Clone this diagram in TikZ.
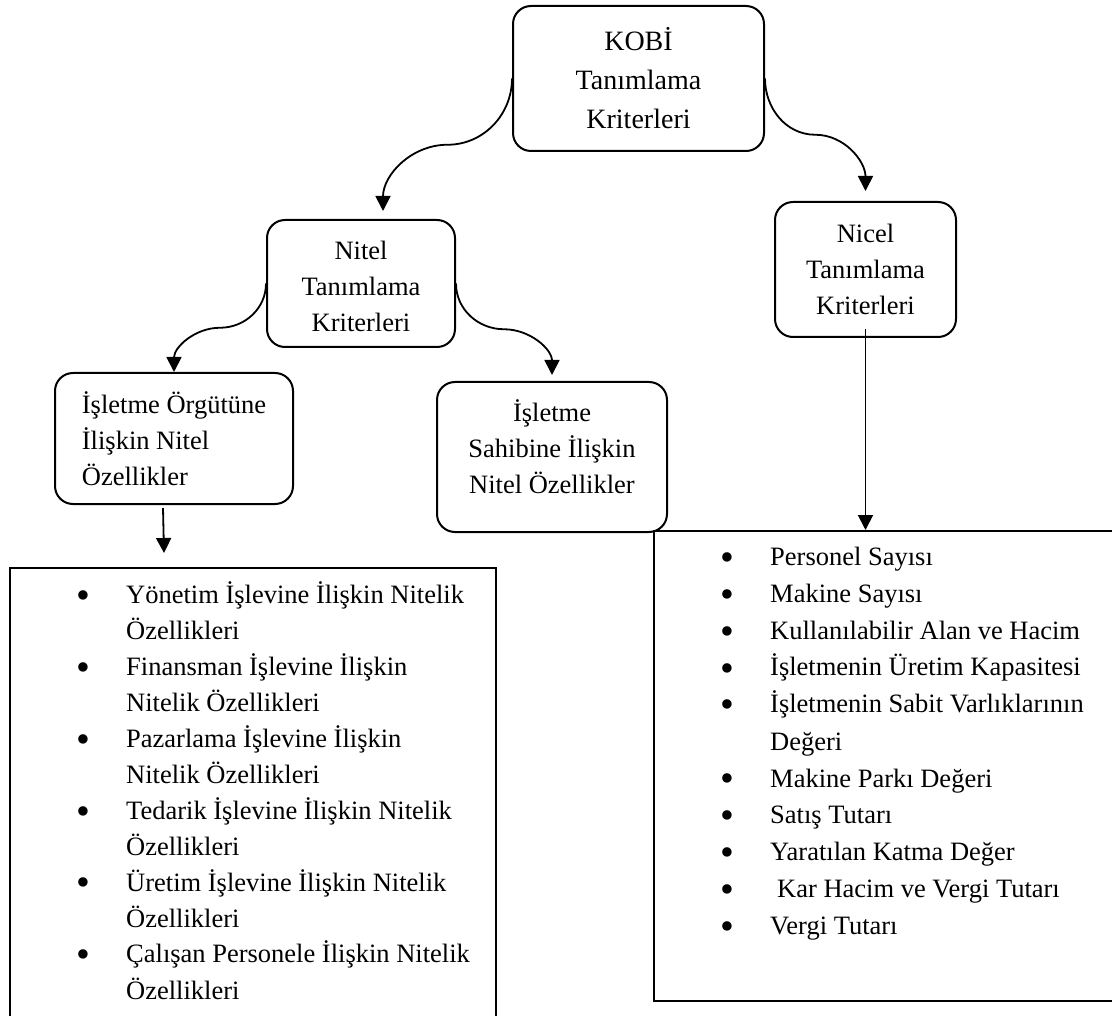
\documentclass[tikz,border=0pt]{standalone}
\usepackage{fontspec}
\setmainfont{Liberation Serif}
\usetikzlibrary{arrows.meta,calc}
\newcommand\blt{\makebox[49.4pt][l]{\raisebox{-5pt}{\fontsize{39.5}{39.5}\selectfont •}}}
\newcommand\ind{\hspace*{49.4pt}}
\begin{document}
\begin{tikzpicture}[x=1pt,y=-1pt,
  rbox/.style={draw, line width=2pt, rounded corners=18pt, inner sep=0pt, align=center, font=\fontsize{26.5}{36}\selectfont},
  lbox/.style={draw, line width=2pt, inner sep=0pt, anchor=north west},
  arr/.style={line width=1.8pt, -{Triangle[length=15pt,width=15pt]}},
  txt/.style={inner sep=0pt, anchor=base west}
]
\useasboundingbox (0,0) rectangle (1112,1016);
\clip (0,0) rectangle (1112,1016);
\fill[white] (0,0) rectangle (1112,1016);

\node[rbox, minimum width=251pt, minimum height=145pt, font=\fontsize{28}{39}\selectfont] (kobi) at (638.5,78.5) {KOBİ\\Tanımlama\\Kriterleri};
\node[rbox, minimum width=188pt, minimum height=127pt] (nitel) at (361,283.5) {\rule{0pt}{24pt}Nitel\\Tanımlama\\Kriterleri};
\node[rbox, minimum width=181pt, minimum height=135pt] (nicel) at (865.5,269.5) {Nicel\\Tanımlama\\Kriterleri};
\node[rbox, align=left, minimum width=238pt, minimum height=131pt] (org) at (174,438.5) {İşletme Örgütüne\\İlişkin Nitel\\Özellikler};
\node[rbox, minimum width=230pt, minimum height=150pt] (sahip) at (552,457) {İşletme\\Sahibine İlişkin\\Nitel Özellikler\rule[-20pt]{0pt}{0pt}};

\node[lbox, minimum width=486pt, minimum height=480pt] (listA) at (9,567) {};
\node[lbox, minimum width=480pt, minimum height=470pt] (listB) at (653,530) {};

\node[txt, font=\fontsize{26.5}{36}\selectfont] (itemsA) at (76.6,603) {\parbox[t]{430pt}{\raggedright
\blt Yönetim İşlevine İlişkin Nitelik\\
\ind Özellikleri\\
\blt Finansman İşlevine İlişkin\\
\ind Nitelik Özellikleri\\
\blt Pazarlama İşlevine İlişkin\\
\ind Nitelik Özellikleri\\
\blt Tedarik İşlevine İlişkin Nitelik\\
\ind Özellikleri\\
\blt Üretim İşlevine İlişkin Nitelik\\
\ind Özellikleri\\
\blt Çalışan Personele İlişkin Nitelik\\
\ind Özellikleri}};

\node[txt, font=\fontsize{26.5}{37}\selectfont] (itemsB) at (720.6,565) {\parbox[t]{420pt}{\raggedright
\blt Personel Sayısı\\
\blt Makine Sayısı\\
\blt Kullanılabilir Alan ve Hacim\\
\blt İşletmenin Üretim Kapasitesi\\
\blt İşletmenin Sabit Varlıklarının\\
\ind Değeri\\
\blt Makine Parkı Değeri\\
\blt Satış Tutarı\\
\blt Yaratılan Katma Değer\\
\blt\hspace*{7pt}Kar Hacim ve Vergi Tutarı\\
\blt Vergi Tutarı}};

\coordinate (e1) at ([xshift=22pt,yshift=8pt]nitel.north);
\coordinate (e2) at ([yshift=10pt]nicel.north);
\coordinate (e3) at (org.north);
\coordinate (e4) at ([yshift=6pt]sahip.north);

\draw[arr] (kobi.west) to[out=-90,in=0] ($(kobi.west)!0.5!(e1)$) to[out=180,in=90] (e1);
\draw[arr] (kobi.east) to[out=-90,in=180] ($(kobi.east)!0.5!(e2)$) to[out=0,in=90] (e2);
\draw[arr] (nitel.west) to[out=-90,in=0] ($(nitel.west)!0.5!(e3)$) to[out=180,in=90] (e3);
\draw[arr] (nitel.east) to[out=-90,in=180] ($(nitel.east)!0.5!(e4)$) to[out=0,in=90] (e4);
\draw[arr] ([xshift=-11pt,yshift=-3pt]org.south) -- ([xshift=-89pt,yshift=14pt]listA.north);
\draw[arr] ([yshift=9pt]nicel.south) -- (nicel.south |- listB.north);
\end{tikzpicture}
\end{document}
